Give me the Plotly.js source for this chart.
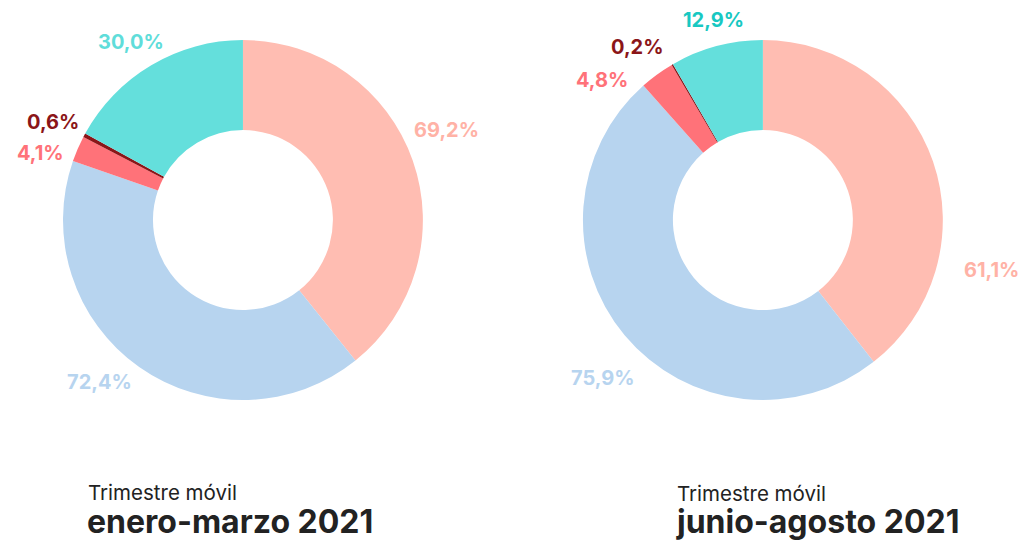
<!DOCTYPE html>
<html>
<head>
<meta charset="utf-8">
<script src="https://cdn.plot.ly/plotly-3.0.1.min.js"></script>
<style>html,body{margin:0;padding:0;background:#fff}#chart{width:1024px;height:542px}</style>
</head>
<body>
<div id="chart"></div>
<script>
const categories = ["A", "B", "C", "D", "E"];
const valuesEneroMarzo = [69.2, 72.4, 4.1, 0.6, 30.0];
const valuesJunioAgosto = [61.1, 75.9, 4.8, 0.2, 12.9];
const labelsEneroMarzo = ["69,2%", "72,4%", "4,1%", "0,6%", "30,0%"];
const labelsJunioAgosto = ["61,1%", "75,9%", "4,8%", "0,2%", "12,9%"];
const subtitle = "Trimestre móvil";
const periodTitles = ["enero-marzo 2021", "junio-agosto 2021"];

const sliceColors = ["#FFBDB2", "#B7D4EF", "#FF7279", "#8B1518", "#64DFDC"];
const textColorsLeft = ["#FFB2A6", "#B7D4EF", "#FF7279", "#8B1518", "#5FDDDA"];
const textColorsRight = ["#FFB2A6", "#B7D4EF", "#FF7279", "#8B1518", "#18C8C2"];
// label anchor positions (paper px) for each slice label
const labelPosLeft = [[446, 130], [99, 382], [40, 153], [53, 122], [131, 42]];
const labelPosRight = [[991, 270], [603, 378], [602, 80], [637, 47], [713, 20]];
const FONT = "Inter, 'Open Sans', sans-serif";
const W = 1024, H = 542;

function pieTrace(values, domainX) {
  return {
    type: "pie",
    labels: categories,
    values: values,
    textinfo: "none",
    hoverinfo: "skip",
    sort: false,
    direction: "clockwise",
    rotation: 0,
    hole: 0.5,
    marker: {colors: sliceColors, line: {width: 0}},
    domain: {x: domainX, y: [0.262, 0.926]},
    showlegend: false
  };
}

const data = [
  pieTrace(valuesEneroMarzo, [0.0615, 0.413]),
  pieTrace(valuesJunioAgosto, [0.569, 0.921])
];

function labelAnns(labels, pos, colors) {
  return labels.map((t, i) => ({
    text: "<b>" + t + "</b>",
    x: pos[i][0] / W, y: 1 - pos[i][1] / H,
    xref: "paper", yref: "paper", xanchor: "center", yanchor: "middle",
    showarrow: false,
    font: {family: FONT, size: 20, color: colors[i], weight: 800}
  }));
}

const annotations = [].concat(
  labelAnns(labelsEneroMarzo, labelPosLeft, textColorsLeft),
  labelAnns(labelsJunioAgosto, labelPosRight, textColorsRight),
  [
    {text: subtitle, x: 86 / W, y: 1 - 492 / H, xref: "paper", yref: "paper", xanchor: "left", yanchor: "middle", showarrow: false, font: {family: FONT, size: 20.5, color: "#222"}},
    {text: "<b>" + periodTitles[0] + "</b>", x: 85 / W, y: 1 - 521 / H, xref: "paper", yref: "paper", xanchor: "left", yanchor: "middle", showarrow: false, font: {family: FONT, size: 32, color: "#222", weight: 800}},
    {text: subtitle, x: 675 / W, y: 1 - 493 / H, xref: "paper", yref: "paper", xanchor: "left", yanchor: "middle", showarrow: false, font: {family: FONT, size: 20.5, color: "#222"}},
    {text: "<b>" + periodTitles[1] + "</b>", x: 674 / W, y: 1 - 521 / H, xref: "paper", yref: "paper", xanchor: "left", yanchor: "middle", showarrow: false, font: {family: FONT, size: 32, color: "#222", weight: 800}}
  ]
);

const layout = {
  width: W, height: H,
  margin: {l: 0, r: 0, t: 0, b: 0},
  paper_bgcolor: "#fff",
  showlegend: false,
  annotations: annotations
};

Plotly.newPlot("chart", data, layout, {displayModeBar: false, staticPlot: true});
</script>
</body>
</html>
